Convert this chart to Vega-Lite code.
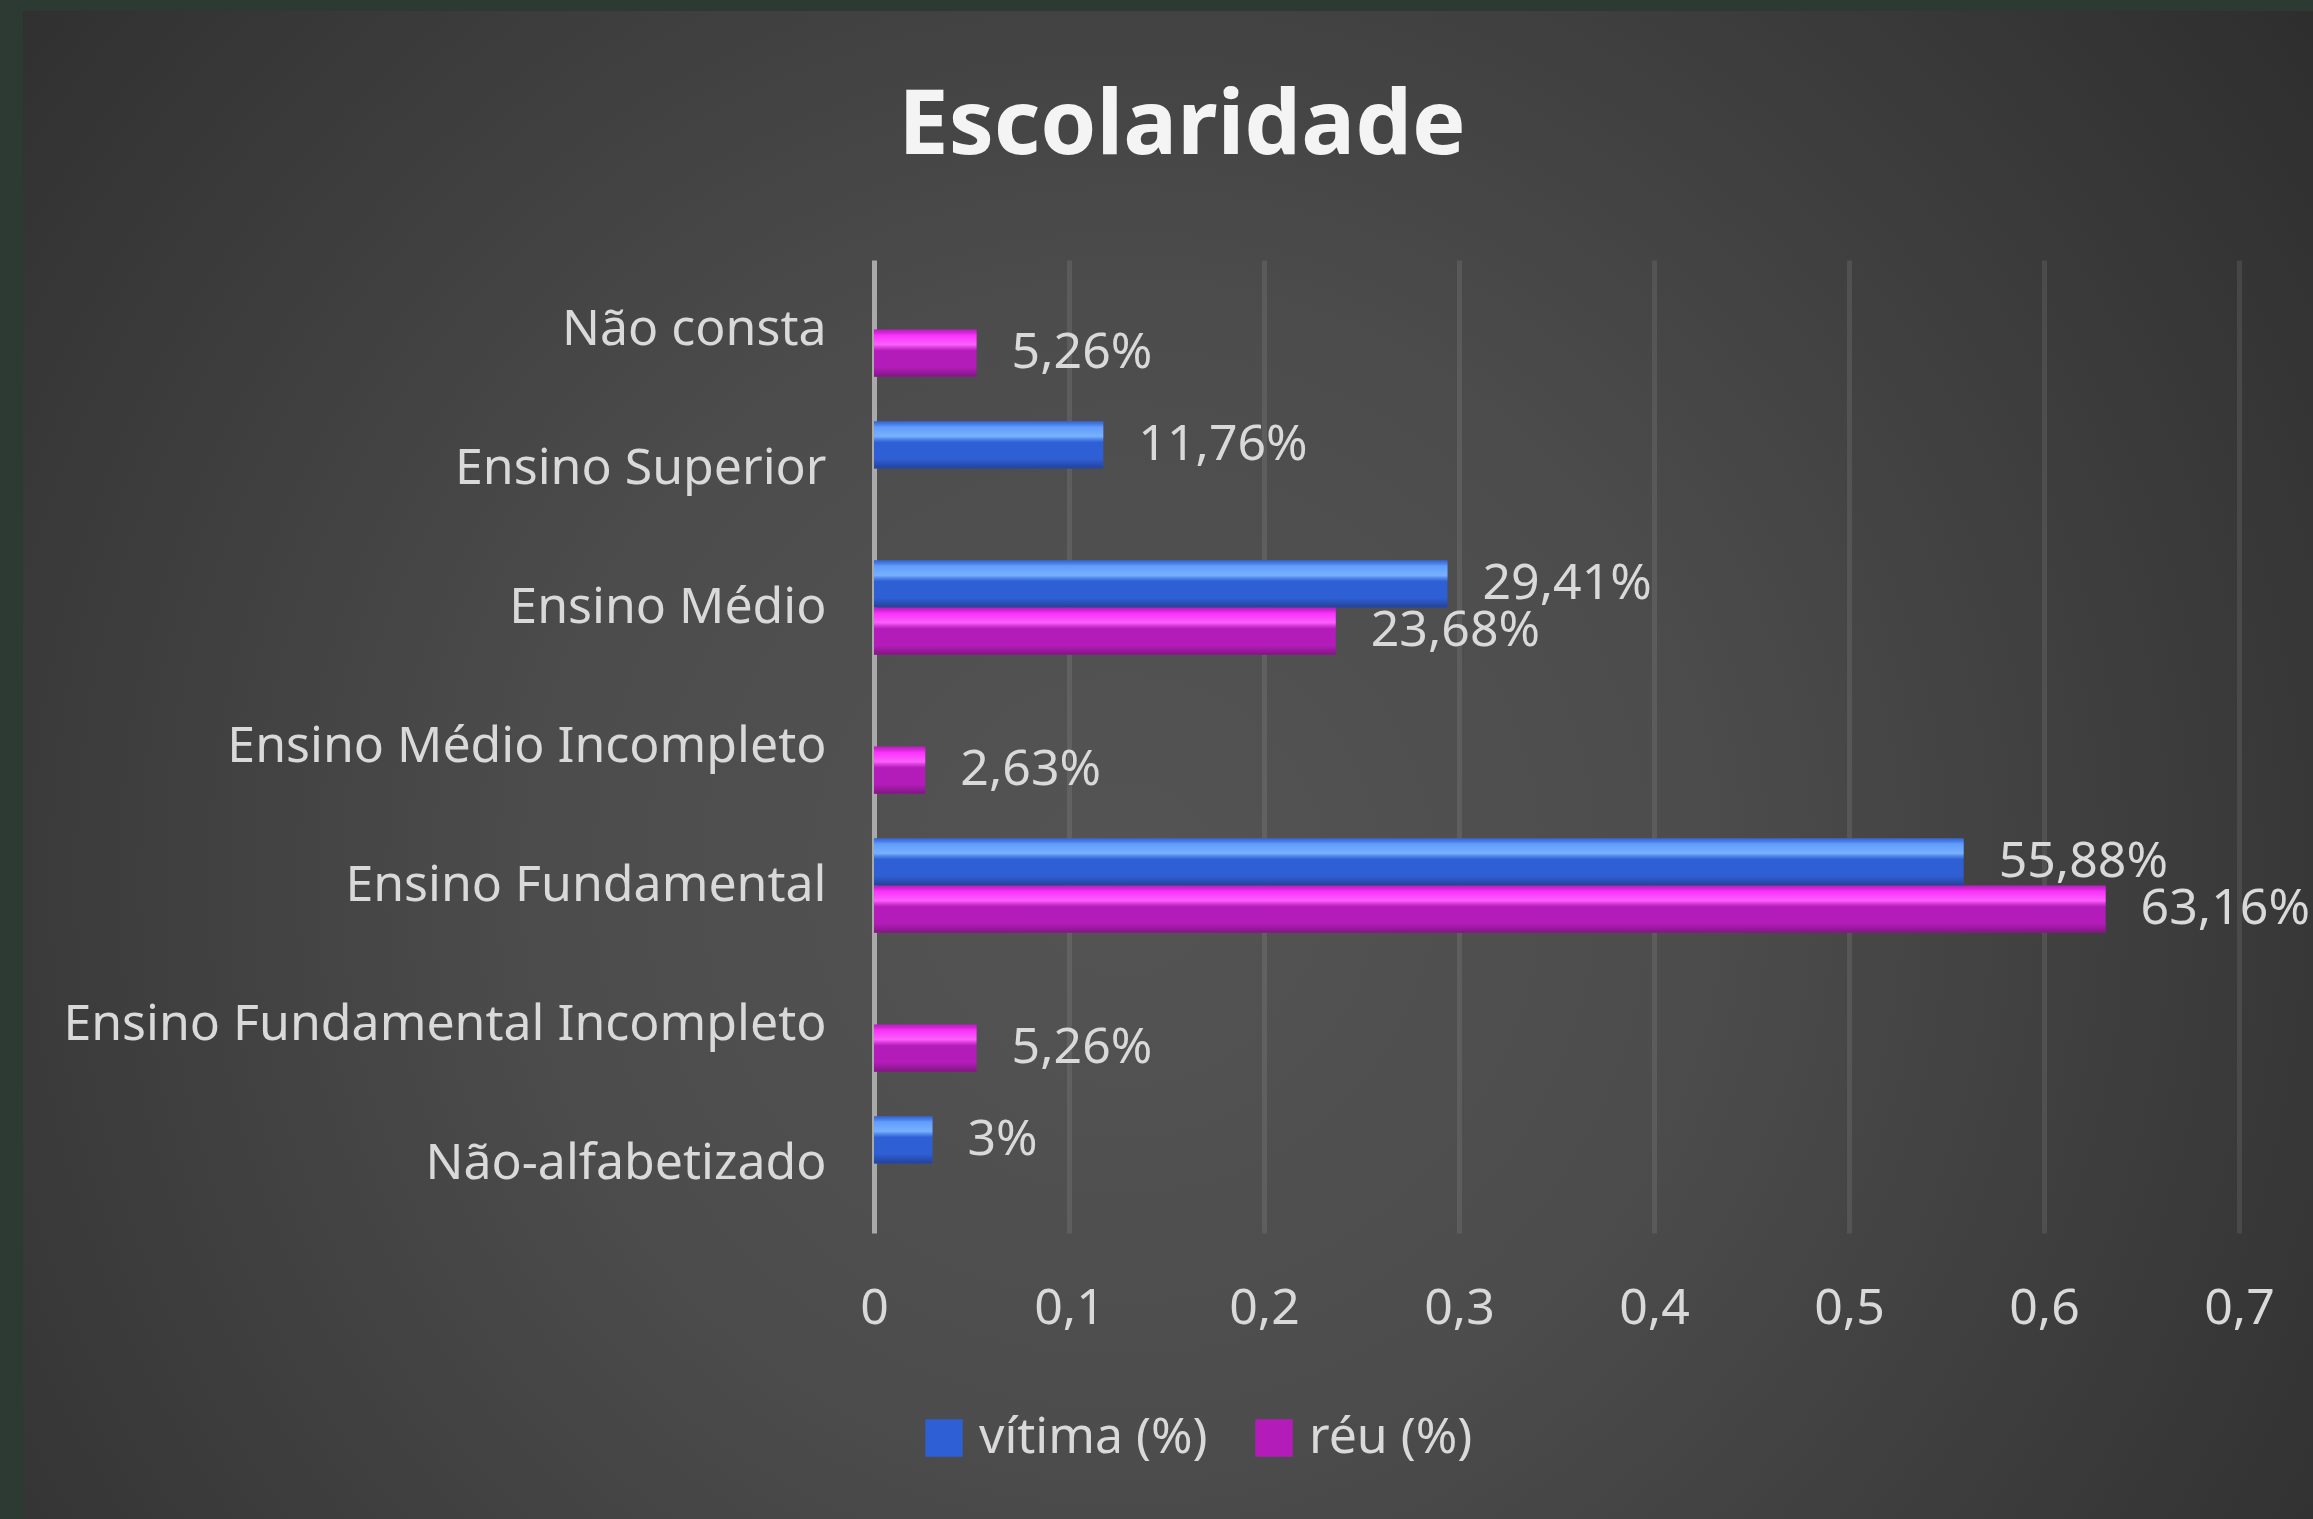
{
  "$schema": "https://vega.github.io/schema/vega-lite/v6.json",
  "width": 2290,
  "height": 1508,
  "autosize": {"type": "none"},
  "padding": {"left": 23, "top": 11, "right": 0, "bottom": 0},
  "background": "#2c3a33",
  "view": {
    "stroke": null,
    "fill": {
      "gradient": "radial",
      "x1": 0.48, "y1": 0.55, "r1": 0,
      "x2": 0.48, "y2": 0.55, "r2": 0.72,
      "stops": [
        {"offset": 0, "color": "#545454"},
        {"offset": 0.35, "color": "#4c4c4c"},
        {"offset": 1, "color": "#282828"}
      ]
    }
  },
  "title": {
    "text": "Escolaridade",
    "font": "Noto Sans",
    "fontSize": 90,
    "fontWeight": "bold",
    "color": "#f4f4f4",
    "anchor": "middle",
    "frame": "group",
    "baseline": "alphabetic",
    "offset": -233,
    "dx": 14
  },
  "config": {
    "locale": {
      "number": {"decimal": ",", "thousands": ".", "grouping": [3], "currency": ["R$", ""]}
    },
    "font": "Noto Sans"
  },
  "data": {
    "values": [
      {"escolaridade": "Não consta", "serie": "réu (%)", "valor": 0.0526},
      {"escolaridade": "Ensino Superior", "serie": "vítima (%)", "valor": 0.1176},
      {"escolaridade": "Ensino Médio", "serie": "vítima (%)", "valor": 0.2941},
      {"escolaridade": "Ensino Médio", "serie": "réu (%)", "valor": 0.2368},
      {"escolaridade": "Ensino Médio Incompleto", "serie": "réu (%)", "valor": 0.0263},
      {"escolaridade": "Ensino Fundamental", "serie": "vítima (%)", "valor": 0.5588},
      {"escolaridade": "Ensino Fundamental", "serie": "réu (%)", "valor": 0.6316},
      {"escolaridade": "Ensino Fundamental Incompleto", "serie": "réu (%)", "valor": 0.0526},
      {"escolaridade": "Não-alfabetizado", "serie": "vítima (%)", "valor": 0.03}
    ]
  },
  "encoding": {
    "x": {
      "field": "valor",
      "type": "quantitative",
      "stack": null,
      "scale": {"domain": [0, 0.7], "range": [851, 2216], "nice": false, "zero": false},
      "axis": {
        "orient": "bottom",
        "offset": -286,
        "values": [0, 0.1, 0.2, 0.3, 0.4, 0.5, 0.6, 0.7],
        "format": "~g",
        "title": null,
        "domain": false,
        "grid": false,
        "ticks": true,
        "tickSize": -973,
        "tickWidth": 5,
        "tickColor": {"condition": {"test": "datum.value === 0", "value": "#a9a9a9"}, "value": "rgba(255,255,255,0.09)"},
        "labelBaseline": "alphabetic",
        "labelPadding": 1063,
        "labelFont": "Noto Sans",
        "labelFontSize": 50,
        "labelColor": "#d9d9d9",
        "labelFlush": false,
        "labelOverlap": false
      }
    },
    "y": {
      "field": "escolaridade",
      "type": "nominal",
      "sort": ["Não consta", "Ensino Superior", "Ensino Médio", "Ensino Médio Incompleto", "Ensino Fundamental", "Ensino Fundamental Incompleto", "Não-alfabetizado"],
      "scale": {"range": [249, 1222], "paddingInner": 0.32, "paddingOuter": 0.16},
      "axis": {
        "orient": "left",
        "offset": -803,
        "title": null,
        "ticks": false,
        "domain": false,
        "grid": false,
        "labelPadding": 0,
        "labelAlign": "right",
        "labelBaseline": "middle",
        "labelFont": "Noto Sans",
        "labelFontSize": 50,
        "labelColor": "#d9d9d9",
        "labelLimit": 1200
      }
    },
    "yOffset": {
      "field": "serie",
      "type": "nominal",
      "scale": {"domain": ["vítima (%)", "réu (%)"], "paddingInner": 0, "paddingOuter": 0}
    }
  },
  "layer": [
    {
      "mark": {"type": "bar"},
      "encoding": {
        "color": {
          "field": "serie",
          "type": "nominal",
          "scale": {"domain": ["vítima (%)", "réu (%)"], "range": ["#2f5fd4", "#b41cb9"]},
          "legend": {
            "orient": "none",
            "legendX": 896,
            "legendY": 1402,
            "direction": "horizontal",
            "title": null,
            "padding": 0,
            "symbolType": "square",
            "symbolSize": 1406,
            "symbolStrokeWidth": 0,
            "labelFont": "Noto Sans",
            "labelFontSize": 50,
            "labelColor": "#d9d9d9",
            "labelLimit": 600,
            "labelOffset": 10,
            "columnPadding": 41
          }
        }
      }
    },
    {
      "transform": [{"filter": "datum.serie === 'vítima (%)'"}],
      "mark": {
        "type": "bar",
        "fill": {
          "gradient": "linear",
          "x1": 0, "y1": 0, "x2": 0, "y2": 1,
          "stops": [
            {"offset": 0, "color": "rgba(70,120,220,0.3)"},
            {"offset": 0.12, "color": "rgba(100,160,255,0.95)"},
            {"offset": 0.32, "color": "rgba(122,182,255,0.95)"},
            {"offset": 0.45, "color": "rgba(100,160,255,0)"},
            {"offset": 0.8, "color": "rgba(30,50,120,0)"},
            {"offset": 1, "color": "rgba(30,50,120,0.65)"}
          ]
        }
      }
    },
    {
      "transform": [{"filter": "datum.serie === 'réu (%)'"}],
      "mark": {
        "type": "bar",
        "fill": {
          "gradient": "linear",
          "x1": 0, "y1": 0, "x2": 0, "y2": 1,
          "stops": [
            {"offset": 0, "color": "rgba(200,40,200,0.3)"},
            {"offset": 0.12, "color": "rgba(255,50,255,0.95)"},
            {"offset": 0.32, "color": "rgba(255,100,255,0.95)"},
            {"offset": 0.45, "color": "rgba(255,80,255,0)"},
            {"offset": 0.8, "color": "rgba(100,20,100,0)"},
            {"offset": 1, "color": "rgba(100,20,100,0.65)"}
          ]
        }
      }
    },
    {
      "mark": {"type": "text", "align": "left", "baseline": "middle", "dx": 35, "font": "Noto Sans", "fontSize": 50, "color": "#d9d9d9"},
      "encoding": {
        "text": {"field": "valor", "type": "quantitative", "format": "~%"}
      }
    }
  ]
}
